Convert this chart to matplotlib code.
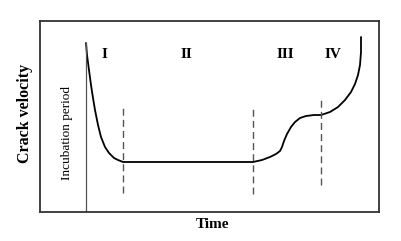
import numpy as np
import matplotlib.pyplot as plt

plt.rcParams['font.family'] = ['Liberation Serif', 'DejaVu Serif']

# curve (time, crack velocity), arbitrary units
time = [46, 47, 49, 51, 53, 55, 58, 61, 65, 69, 74, 78, 83,
        213, 222, 230, 236, 240, 242, 244, 247, 251, 255, 260, 266, 274, 281,
        290, 298, 305, 311, 315, 318, 320, 321, 321]
velocity = [169, 157, 142, 127, 114, 102, 87, 75, 65, 59, 54, 52, 50,
            50, 52, 55, 58, 61, 65, 71, 78, 85, 90, 94, 96, 97, 97,
            100, 105, 112, 120, 128, 137, 147, 160, 175]

incubation_end = 46
stage_bounds = [83, 213, 281]
stage_dash_ranges = [(19, 107), (18, 104), (27, 112)]
stage_labels = ['I', 'II', 'III', 'IV']
stage_label_x = [64, 146, 245, 293]

fig = plt.figure(figsize=(4.01, 2.41), dpi=100)
ax = fig.add_axes([40 / 401, 29 / 241, 339 / 401, 191 / 241])
ax.set_xlim(0, 339)
ax.set_ylim(0, 191)

ax.plot(time, velocity, color='black', lw=1.3, solid_capstyle='round',
        solid_joinstyle='round')
ax.plot([incubation_end, incubation_end], [0, velocity[0]], color='#555555', lw=0.9)

for xb, (y0, y1) in zip(stage_bounds, stage_dash_ranges):
    ax.plot([xb, xb], [y0, y1], color='#555555', lw=1.0, ls=(0, (5, 3)))

for lab, xl in zip(stage_labels, stage_label_x):
    ax.text(xl, 157, lab, ha='center', va='center', fontsize=11, fontweight='bold')

ax.text(27, 79, 'Incubation period', rotation=90, ha='center', va='center', fontsize=9.5)

ax.set_xticks([])
ax.set_yticks([])
for s in ax.spines.values():
    s.set_linewidth(1.3)
    s.set_color('#333333')

fig.text(25 / 401, 1 - 113 / 241, 'Crack velocity', rotation=90, ha='center', va='center',
         fontsize=11.5, fontweight='bold')
fig.text(213 / 401, 1 - 224 / 241, 'Time', ha='center', va='center', fontsize=11, fontweight='bold')

fig.savefig('out.png', dpi=100)
